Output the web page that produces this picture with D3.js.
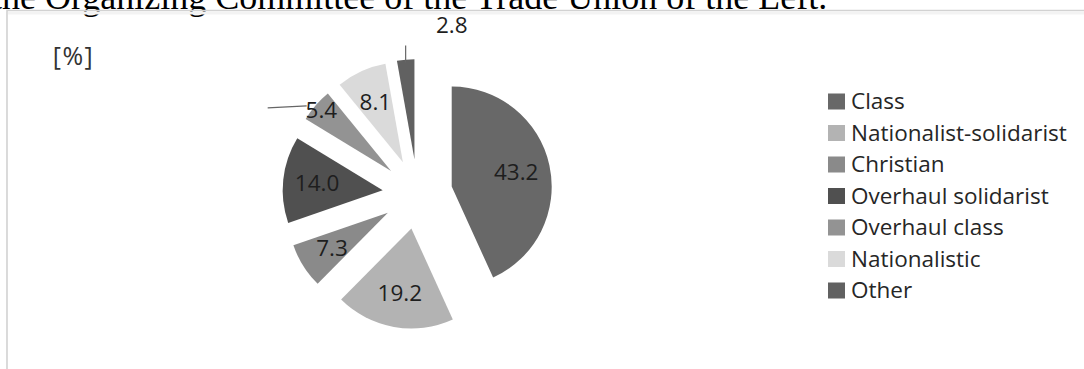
<!DOCTYPE html>
<html><head><meta charset="utf-8">
<script src="https://cdn.jsdelivr.net/npm/d3@7"></script>
<style>body{margin:0;background:#fff;overflow:hidden} svg{display:block}</style>
</head><body><svg id="c" width="1084" height="369"></svg>
<script>
const categories = ["Class","Nationalist-solidarist","Christian","Overhaul solidarist","Overhaul class","Nationalistic","Other"];
const values = [43.2, 19.2, 7.3, 14.0, 5.4, 8.1, 2.8];
const valueLabels = ["43.2","19.2","7.3","14.0","5.4","8.1","2.8"];
const colors = ["#686868","#b3b3b3","#8a8a8a","#505050","#939393","#dadada","#616161"];
const unitLabel = "[%]";
const titleText = "the Organizing Committee of the Trade Union of the Left.";

const svg = d3.select("#c");
const sans = "'Open Sans', Lato, 'DejaVu Sans', sans-serif";

// clipped title of the surrounding document
svg.append("text").attr("x", -8).attr("y", 8.5)
  .attr("font-family", "'Liberation Serif','Times New Roman',serif")
  .attr("font-size", 36).attr("fill", "#000").text(titleText);

// chart frame
svg.append("path").attr("d", "M7,400 V10.5 H1100")
  .attr("fill", "none").attr("stroke", "#d2d2d2").attr("stroke-width", 1.6);
svg.append("line").attr("x1", 8).attr("x2", 1084).attr("y1", 13).attr("y2", 13)
  .attr("stroke", "#f3f3f3").attr("stroke-width", 3);

// unit label
svg.append("text").attr("x", 73.5).attr("y", 56).attr("dy", "0.35em")
  .attr("text-anchor", "middle").attr("font-family", sans).attr("font-size", 25)
  .attr("letter-spacing", 1.5).attr("fill", "#333").text(unitLabel);

// pie
const cx = 417.5, cy = 194, R = 100, explode = 35;
const pie = d3.pie().sort(null).value(d => d).startAngle(0).endAngle(2 * Math.PI);
const arcs = pie(values);
const arc = d3.arc().innerRadius(0).outerRadius(R);
const labelArc = d3.arc().innerRadius(66).outerRadius(66);
const dir = a => { const m = (a.startAngle + a.endAngle) / 2; return [Math.sin(m), -Math.cos(m)]; };

const g = svg.append("g").attr("transform", `translate(${cx},${cy})`);
const slices = g.selectAll("g.slice").data(arcs).enter().append("g")
  .attr("transform", d => { const [ux, uy] = dir(d); return `translate(${ux * explode},${uy * explode})`; });
slices.append("path").attr("d", arc).attr("fill", (d, i) => colors[i]);

// leader lines for moved labels
function outerPoint(d) { const [ux, uy] = dir(d); return [ux * (explode + R), uy * (explode + R)]; }
{
  const [ox, oy] = outerPoint(arcs[4]);
  g.append("line").attr("x1", ox - 9).attr("y1", oy + 0.5).attr("x2", ox - 48).attr("y2", oy + 2.5)
    .attr("stroke", "#666").attr("stroke-width", 1.2);
  const [px, py] = outerPoint(arcs[6]);
  g.append("line").attr("x1", px).attr("y1", py + 3).attr("x2", px).attr("y2", py - 14)
    .attr("stroke", "#666").attr("stroke-width", 1.2);
}

// data labels
function labelPos(d, i) {
  const [ux, uy] = dir(d);
  if (i === 4) { const r = 127.5; return [ux * r, uy * r]; }
  if (i === 6) { const a = 11.5 * Math.PI / 180, r = 172; return [Math.sin(a) * r, -Math.cos(a) * r]; }
  const c = labelArc.centroid(d);
  return [c[0] + ux * explode, c[1] + uy * explode];
}
g.selectAll("text.lbl").data(arcs).enter().append("text")
  .attr("x", (d, i) => labelPos(d, i)[0]).attr("y", (d, i) => labelPos(d, i)[1])
  .attr("dy", "0.35em").attr("text-anchor", "middle")
  .attr("font-family", sans).attr("font-size", 22.5).attr("fill", "#1e1e1e")
  .text((d, i) => valueLabels[i]);

// legend
const lg = svg.append("g").attr("transform", "translate(828,101.5)");
const rows = lg.selectAll("g").data(categories).enter().append("g")
  .attr("transform", (d, i) => `translate(0,${i * 31.5})`);
rows.append("rect").attr("x", 0).attr("y", -8).attr("width", 17).attr("height", 16)
  .attr("fill", (d, i) => colors[i]);
rows.append("text").attr("x", 23).attr("y", 0).attr("dy", "0.35em")
  .attr("font-family", sans).attr("font-size", 22.5).attr("fill", "#262626").text(d => d);
</script>
</body></html>
